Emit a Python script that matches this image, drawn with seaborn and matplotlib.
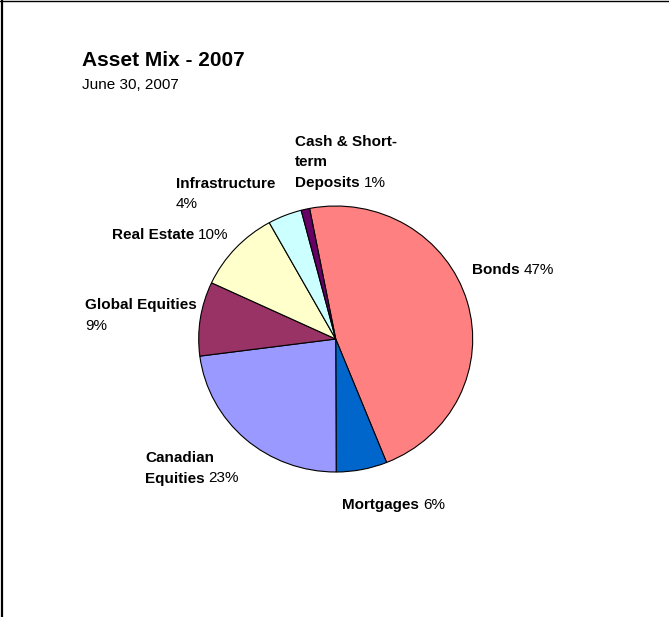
import matplotlib
matplotlib.use("Agg")
import matplotlib.pyplot as plt
import matplotlib.transforms as mtransforms
from matplotlib.lines import Line2D
import seaborn as sns

# Asset mix as at June 30, 2007 (percent of total)
categories = ["Bonds", "Mortgages", "Canadian Equities", "Global Equities",
              "Real Estate", "Infrastructure", "Cash & Short-term Deposits"]
label_lines = [["Bonds"], ["Mortgages"], ["Canadian", "Equities"], ["Global Equities"],
               ["Real Estate"], ["Infrastructure"], ["Cash & Short-", "term", "Deposits"]]
shares = [47, 6, 23, 9, 10, 4, 1]
pct_on_new_line = [False, False, False, True, False, True, False]
colors = ["#FF8080", "#0066CC", "#9999FF", "#993366", "#FFFFCC", "#CCFFFF", "#660066"]

# label anchors: left edge and centre of first line, in pixels from the top-left
label_xy = [(472, 270), (342, 505), (145, 458), (85, 305), (112, 235), (176, 184), (295, 142)]

W, H = 669, 617
sns.set_theme(style="white")
plt.rcParams["font.family"] = ["Liberation Sans", "DejaVu Sans"]

fig = plt.figure(figsize=(W / 100, H / 100), dpi=100)
fig.patch.set_facecolor("white")
px = mtransforms.Affine2D().scale(1 / W, -1 / H).translate(0, 1) + fig.transFigure

# pie area
cx, cy, rx, ry = 335.7, 339.0, 137.0, 133.0
ax = fig.add_axes([(cx - rx) / W, 1 - (cy + ry) / H, 2 * rx / W, 2 * ry / H])
wedges, _ = ax.pie(shares, colors=colors, startangle=101, counterclock=False,
                   wedgeprops=dict(edgecolor="black", linewidth=0.8))
for w in wedges:
    w.set_clip_on(False)
ax.set_aspect("auto")
ax.set_xlim(-1, 1)
ax.set_ylim(-1, 1)
ax.axis("off")

# slice labels: bold category name followed by the regular-weight share
fs = 11
gap = 20.5
for lines, share, new_line, (x, y) in zip(label_lines, shares, pct_on_new_line, label_xy):
    t = None
    for i, line in enumerate(lines):
        t = fig.text(x, y + i * gap, line, transform=px, fontsize=fs,
                     fontweight="bold", ha="left", va="center", color="black")
    pct = f"{share}%"
    if new_line:
        fig.text(x, y + len(lines) * gap, pct, transform=px, fontsize=fs,
                 ha="left", va="center", color="black")
    else:
        ax.annotate(pct, xy=(1, 0), xycoords=t, xytext=(4, 0), textcoords="offset pixels",
                    fontsize=fs, ha="left", va="bottom", color="black",
                    annotation_clip=False)

# title block
fig.text(82, 61, "Asset Mix - 2007", transform=px, fontsize=15, fontweight="bold",
         ha="left", va="center", color="black")
fig.text(82, 85, "June 30, 2007", transform=px, fontsize=11,
         ha="left", va="center", color="black")

# frame edges
fig.add_artist(Line2D([0, W], [0.5, 0.5], transform=px, color="black", linewidth=1.0))
fig.add_artist(Line2D([1.5, 1.5], [0, H], transform=px, color="black", linewidth=1.6))

fig.savefig("out.png", dpi=100, facecolor="white")
